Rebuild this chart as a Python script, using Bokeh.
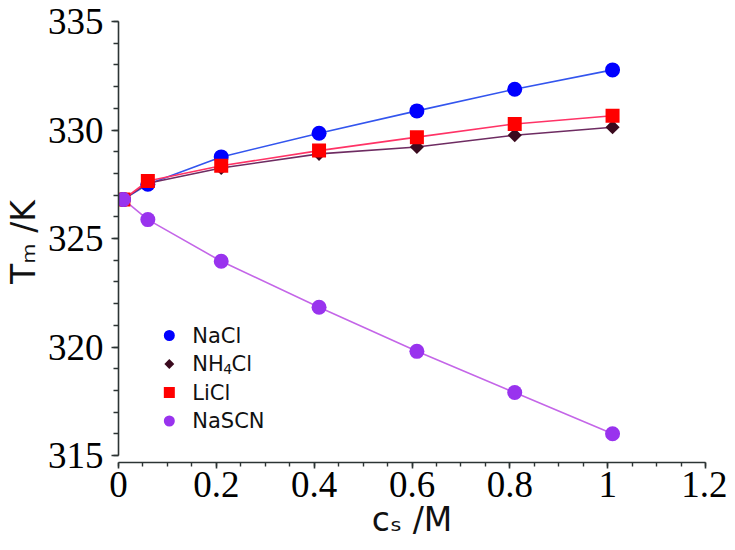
import math
import numpy as np
from bokeh.plotting import figure
from bokeh.models import FixedTicker, NumeralTickFormatter, Label, Range1d
from bokeh.embed import file_html
from bokeh.resources import INLINE

# ---- data ----
conc = [0.01, 0.06, 0.21, 0.41, 0.61, 0.81, 1.01]
tm_nacl = [326.8, 327.5, 328.76, 329.85, 330.88, 331.88, 332.77]
tm_nh4cl = [326.8, 327.55, 328.25, 328.9, 329.22, 329.76, 330.13]
tm_licl = [326.8, 327.65, 328.35, 329.05, 329.67, 330.28, 330.66]
tm_nascn = [326.8, 325.87, 323.95, 321.83, 319.8, 317.9, 316.0]

x_major = [0, 0.2, 0.4, 0.6, 0.8, 1.0, 1.2]
y_major = [315, 320, 325, 330, 335]

# ---- layout helpers (figure px -> data) ----
X0, X1 = 0.0, 1.2
Y1 = 335.0
PX_LEFT, PX_RIGHT = 116, 705
PX_TOP, PX_315 = 21, 455
YSCALE = (PX_315 - PX_TOP) / 20.0
PX_BOTTOM = 462
Y0 = 315 - (PX_BOTTOM - PX_315) / YSCALE

def xd(px):
    return X0 + (px - PX_LEFT) * (X1 - X0) / (PX_RIGHT - PX_LEFT)

def yd(py):
    return Y1 - (py - PX_TOP) / YSCALE

W, H = 727, 542
p = figure(width=W, height=H, output_backend="svg", toolbar_location=None,
           x_range=Range1d(X0, X1), y_range=Range1d(Y0, Y1),
           min_border_left=PX_LEFT, min_border_right=W - PX_RIGHT,
           min_border_top=PX_TOP, min_border_bottom=H - PX_BOTTOM,
           background_fill_color="white", border_fill_color="white")
p.outline_line_color = None
p.grid.visible = False

axis_col = "#2c3434"
for ax in (p.xaxis[0], p.yaxis[0]):
    ax.axis_line_color = axis_col
    ax.axis_line_width = 1.6
    ax.major_tick_line_color = axis_col
    ax.minor_tick_line_color = axis_col
    ax.major_tick_line_width = 1.6
    ax.minor_tick_line_width = 1.4
    ax.major_tick_in = 0
    ax.minor_tick_in = 0
    ax.major_label_text_font = "Liberation Serif"
    ax.major_label_text_font_size = "37px"
    ax.major_label_text_color = "black"
    ax.axis_label_text_font = "DejaVu Sans"
    ax.axis_label_text_font_size = "33px"
    ax.axis_label_text_font_style = "normal"
    ax.axis_label_text_color = "#111111"

p.xaxis.ticker = FixedTicker(ticks=x_major, minor_ticks=list(np.round(np.arange(0, 1.2001, 0.05), 3)))
p.xaxis.formatter = NumeralTickFormatter(format="0.[0]")
p.xaxis.bounds = (0, 1.2)
p.xaxis.major_tick_out = 6
p.xaxis.minor_tick_out = 4
p.xaxis.major_label_standoff = 3
p.xaxis.axis_label = "c\u209b /M"
p.xaxis.axis_label_standoff = 0

p.yaxis.ticker = FixedTicker(ticks=y_major, minor_ticks=list(range(315, 336)))
p.yaxis.bounds = (315, 335)
p.yaxis.major_tick_out = 7
p.yaxis.minor_tick_out = 5
p.yaxis.major_label_standoff = 8
p.yaxis.axis_label = "T\u2098 /K"
p.yaxis.axis_label_standoff = 2

# ---- fit lines ----
p.line(conc, tm_nacl, line_color="#3355ee", line_width=1.6)
p.line(conc, tm_nh4cl, line_color="#6e2c62", line_width=1.6)
p.line(conc, tm_licl, line_color="#ff3366", line_width=1.6)
p.line(conc, tm_nascn, line_color="#c466e8", line_width=1.6)

# ---- markers ----
p.scatter(conc, tm_nh4cl, marker="square", angle=math.pi / 4, size=10,
          fill_color="#3a0a1e", line_color=None)
p.scatter(conc, tm_nacl, marker="circle", size=15, fill_color="#0000ff", line_color=None)
p.scatter(conc, tm_licl, marker="square", size=14, fill_color="#ff0000", line_color=None)
p.scatter(conc, tm_nascn, marker="circle", size=15, fill_color="#9933ee", line_color=None)

# ---- legend (hand-drawn) ----
leg_rows = [335, 363.5, 392, 420.5]
lx = xd(167)
p.scatter([lx], [yd(leg_rows[0])], marker="circle", size=11, fill_color="#0000ff", line_color=None)
p.scatter([lx], [yd(leg_rows[1])], marker="square", angle=math.pi / 4, size=7,
          fill_color="#3a0a1e", line_color=None)
p.scatter([lx], [yd(leg_rows[2])], marker="square", size=11, fill_color="#ff0000", line_color=None)
p.scatter([lx], [yd(leg_rows[3])], marker="circle", size=11, fill_color="#9933ee", line_color=None)

LF = "DejaVu Sans"
def lab(x, y, t, size, **kw):
    p.add_layout(Label(x=x, y=y, text=t, text_font=LF, text_font_size=size,
                       text_color="#111111", **kw))

lab(xd(190), yd(leg_rows[0]), "NaCl", "21px", text_baseline="middle")
lab(xd(190), yd(leg_rows[1]), "NH", "21px", text_baseline="middle")
lab(xd(221), yd(leg_rows[1] + 5), "4", "14px", text_baseline="middle")
lab(xd(229.5), yd(leg_rows[1]), "Cl", "21px", text_baseline="middle")
lab(xd(190), yd(leg_rows[2]), "LiCl", "21px", text_baseline="middle")
lab(xd(190), yd(leg_rows[3]), "NaSCN", "21px", text_baseline="middle")

open("out.html", "w").write(file_html(p, INLINE))
